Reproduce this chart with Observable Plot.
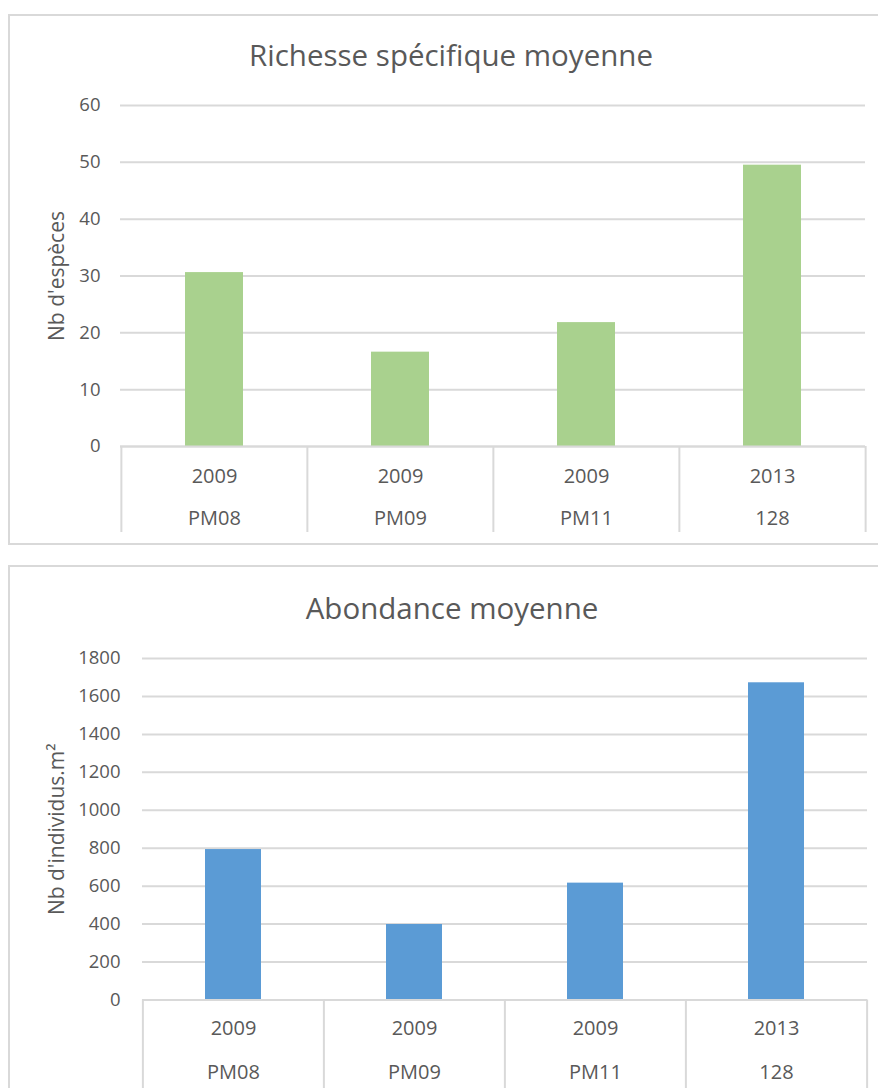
<!DOCTYPE html>
<html>
<head>
<meta charset="utf-8">
<script src="https://cdn.jsdelivr.net/npm/d3@7"></script>
<script src="https://cdn.jsdelivr.net/npm/@observablehq/plot@0.6"></script>
<style>
  html, body { margin: 0; padding: 0; background: #fff; }
  body { position: relative; width: 878px; height: 1088px; overflow: hidden; font-family: "Open Sans", sans-serif; }
  .panel { position: absolute; border: 2px solid #d9d9d9; box-sizing: border-box; background: #fff; }
  .chart { position: absolute; left: 0; }
  .chart svg { overflow: visible; }
</style>
</head>
<body>
<div class="panel" style="left:8px; top:14px; width:900px; height:531px;"></div>
<div class="panel" style="left:8px; top:565px; width:900px; height:600px;"></div>
<div id="top" class="chart" style="top:0px;"></div>
<div id="bottom" class="chart" style="top:544px;"></div>
<script>
// Sampling stations, campaign years and the two mean indicators
const sites = ["PM08", "PM09", "PM11", "128"];
const years = ["2009", "2009", "2009", "2013"];
const richesse = [30.6, 16.6, 21.8, 49.5];
const abondance = [793, 398, 616, 1672];
const richesseTicks = [0, 10, 20, 30, 40, 50, 60];
const abondanceTicks = [0, 200, 400, 600, 800, 1000, 1200, 1400, 1600, 1800];

const textColor = "#595959";
const gridColor = "#d9d9d9";
const yearOf = new Map(sites.map((s, i) => [s, years[i]]));

function barChart({values, ticks, fill, title, yLabel, width, height,
                   marginLeft, marginRight, marginTop, marginBottom,
                   titleDx, titleDy, labelDx, yearDy, siteDy, sepBelow, tickPadding}) {
  const data = sites.map((s, i) => ({site: s, year: years[i], value: values[i]}));
  const step = (width - marginLeft - marginRight) / sites.length;
  return Plot.plot({
    width, height, marginLeft, marginRight, marginTop, marginBottom,
    style: {fontFamily: "'Open Sans', sans-serif", color: textColor, background: "transparent", overflow: "visible"},
    x: {domain: sites, paddingInner: 0.69, paddingOuter: 0.345, axis: null},
    y: {domain: [ticks[0], ticks[ticks.length - 1]], axis: null},
    marks: [
      Plot.gridY(ticks, {stroke: gridColor, strokeOpacity: 1, strokeWidth: 2}),
      Plot.barY(data, {x: "site", y: "value", fill}),
      Plot.ruleY([0], {stroke: gridColor, strokeWidth: 2}),
      // category separators below the baseline
      Plot.ruleX(sites, {x: d => d, stroke: gridColor, strokeWidth: 2, dx: -step / 2,
        insetTop: height - marginTop - marginBottom, insetBottom: -sepBelow}),
      Plot.ruleX([sites[sites.length - 1]], {x: d => d, stroke: gridColor, strokeWidth: 2, dx: step / 2,
        insetTop: height - marginTop - marginBottom, insetBottom: -sepBelow}),
      Plot.axisY(ticks, {tickSize: 0, tickPadding, tickFormat: d => String(d),
        fontSize: 18.5, fill: textColor, label: null}),
      Plot.text(sites, {x: d => d, text: d => yearOf.get(d), frameAnchor: "bottom", dy: yearDy,
        fontSize: 20, fill: textColor, lineAnchor: "middle"}),
      Plot.text(sites, {x: d => d, text: d => d, frameAnchor: "bottom", dy: siteDy,
        fontSize: 20, fill: textColor, lineAnchor: "middle"}),
      Plot.text([yLabel], {frameAnchor: "left", dx: labelDx, rotate: -90,
        fontSize: 21, fill: textColor, lineAnchor: "middle", textAnchor: "middle"}),
      Plot.text([title], {frameAnchor: "top", dx: titleDx, dy: titleDy,
        fontSize: 29.5, fill: textColor, lineAnchor: "middle"})
    ]
  });
}

document.getElementById("top").append(barChart({
  values: richesse, ticks: richesseTicks, fill: "#a9d18e",
  title: "Richesse spécifique moyenne", yLabel: "Nb d'espèces",
  width: 878, height: 544, marginLeft: 120, marginRight: 13, marginTop: 105, marginBottom: 98,
  titleDx: -42, titleDy: -49, labelDx: -63, yearDy: 30, siteDy: 72, sepBelow: 86, tickPadding: 20
}));

document.getElementById("bottom").append(barChart({
  values: abondance, ticks: abondanceTicks, fill: "#5b9bd5",
  title: "Abondance moyenne", yLabel: "Nb d'individus.m²",
  width: 878, height: 544, marginLeft: 142, marginRight: 11, marginTop: 114, marginBottom: 88.5,
  titleDx: -53, titleDy: -49, labelDx: -85, yearDy: 28.5, siteDy: 72.5, sepBelow: 120, tickPadding: 22
}));
</script>
</body>
</html>
